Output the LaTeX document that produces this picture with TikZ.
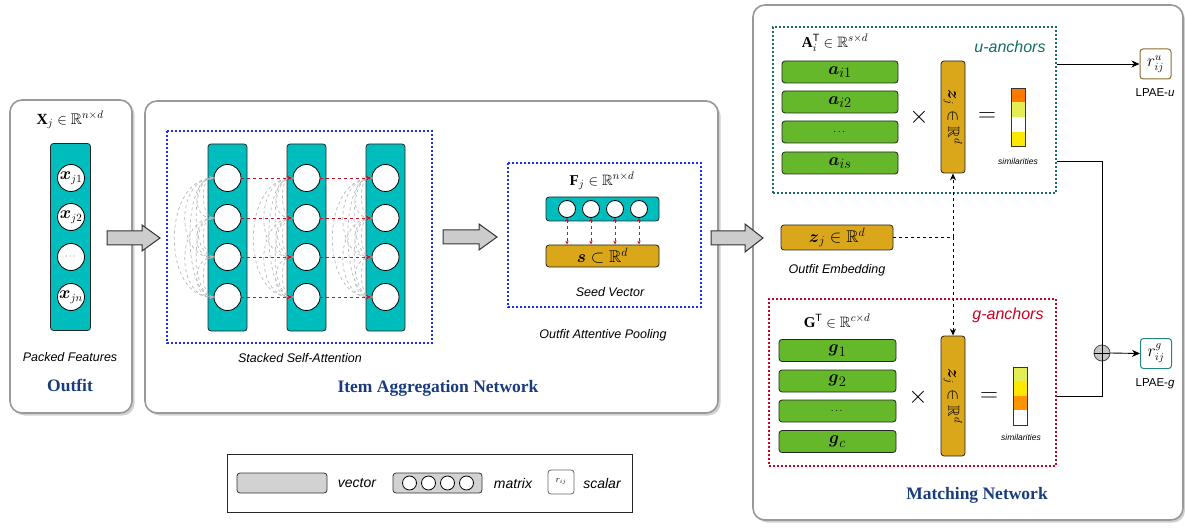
\documentclass[tikz,border=0pt]{standalone}
\usepackage{amsmath,amssymb}
\usepackage{fontspec}
\setmainfont{Liberation Serif}
\setsansfont{Liberation Sans}
\usetikzlibrary{arrows.meta,calc}
\definecolor{tealc}{RGB}{0,189,189}
\definecolor{goldc}{RGB}{218,166,26}
\definecolor{greenc}{RGB}{101,184,42}
\definecolor{titlec}{RGB}{25,60,125}
\definecolor{bluec}{RGB}{25,45,250}
\definecolor{redc}{RGB}{200,20,40}
\definecolor{udotc}{RGB}{20,110,100}
\definecolor{gdotc}{RGB}{200,0,35}
\definecolor{brownc}{RGB}{139,110,50}
\definecolor{rgc}{RGB}{40,130,130}
\begin{document}
\begin{tikzpicture}[x=1pt,y=-1pt,
  panelbox/.style={draw=black!40, line width=1.6pt, rounded corners=12pt, fill=white, inner sep=0pt},
  panelshadow/.style={fill=black!18, rounded corners=12pt},
  tealcol/.style={draw=black!85, fill=tealc, rounded corners=3pt, line width=0.8pt, inner sep=0pt},
  cir/.style={circle, draw=black, fill=white, line width=0.8pt, minimum size=27pt, inner sep=0pt},
  scir/.style={circle, draw=black, fill=white, line width=0.8pt, minimum size=17pt, inner sep=0pt},
  gvec/.style={draw=black!85, fill=goldc, rounded corners=3pt, line width=0.8pt, inner sep=0pt},
  greenrow/.style={draw=black!85, fill=greenc, rounded corners=3pt, line width=0.8pt, inner sep=0pt, font=\fontsize{19}{21}\selectfont},
  bdot/.style={draw=bluec, line width=1.3pt, dash pattern=on 2pt off 2pt},
  udot/.style={draw=udotc, line width=1.3pt, dash pattern=on 2pt off 2pt, inner sep=0pt},
  gdot/.style={draw=gdotc, line width=1.3pt, dash pattern=on 2pt off 2pt, inner sep=0pt},
  lab/.style={font=\sffamily\itshape\fontsize{12.5}{14}\selectfont},
  leglab/.style={font=\sffamily\itshape\fontsize{14}{16}\selectfont},
  simlab/.style={font=\sffamily\itshape\fontsize{8.5}{10}\selectfont},
  mlab/.style={font=\fontsize{15}{17}\selectfont},
  ttl/.style={font=\bfseries\fontsize{17.5}{20}\selectfont, text=titlec},
  bigop/.style={font=\fontsize{24}{26}\selectfont},
  attn/.style={draw=gray!55, dashed, line width=0.7pt, -{Stealth[length=4pt,width=3.5pt]}},
  redarr/.style={draw=redc, dashed, line width=0.9pt, -{Stealth[length=6pt,width=5pt]}},
  redbi/.style={draw=redc, dashed, line width=0.9pt, {Stealth[length=4pt,width=3.5pt]}-{Stealth[length=4pt,width=3.5pt]}},
  fatarrow/.style={draw=black!80, fill=gray!40, line width=1pt, line join=miter},
  conn/.style={draw=black, line width=0.9pt},
  rbox/.style={rounded corners=3pt, line width=1pt, fill=white, inner sep=0pt, minimum width=31pt, minimum height=30pt, font=\fontsize{16}{18}\selectfont}
]
\useasboundingbox (0,0) rectangle (1185,529);

% ---------------- panels ----------------
\fill[panelshadow] (12.5,102.5) rectangle (134.5,415.5);
\fill[panelshadow] (147.5,103.5) rectangle (720.5,415.5);
\fill[panelshadow] (755.5,7.5) rectangle (1185,522.5);
\node[panelbox, minimum width=122pt, minimum height=313pt] (outp) at (71,256.5) {};
\node[panelbox, minimum width=573pt, minimum height=312pt] (itemp) at (431.5,257) {};
\node[panelbox, minimum width=430pt, minimum height=515pt] (matchp) at (968,262.5) {};

% ---------------- outfit ----------------
\node[mlab, font=\fontsize{15.5}{17}\selectfont] (xlab) at (70,120) {$\mathbf{X}_j \in \mathbb{R}^{n\times d}$};
\node[tealcol, minimum width=40pt, minimum height=187pt] (oc) at (70.5,237) {};
\node[cir, font=\fontsize{16}{18}\selectfont] (o1) at (71,178) {$\boldsymbol{x}_{j1}$};
\node[cir, font=\fontsize{16}{18}\selectfont] (o2) at (71,217) {$\boldsymbol{x}_{j2}$};
\node[cir, font=\fontsize{8}{9}\selectfont] (o3) at (71,257) {$\cdots$};
\node[cir, font=\fontsize{16}{18}\selectfont] (o4) at (71,297) {$\boldsymbol{x}_{jn}$};
\node[lab] (pf) at (70,357) {Packed Features};
\node[ttl] (outt) at (70,385) {Outfit};

% ---------------- fat arrows ----------------
\draw[fatarrow] (107,231) -- (142,231) -- (142,225) -- (160,238) -- (142,251) -- (142,245) -- (107,245) -- cycle;
\draw[fatarrow] (443,230) -- (479,230) -- (479,224) -- (497,237) -- (479,250) -- (479,244) -- (443,244) -- cycle;
\draw[fatarrow] (711,231) -- (745,231) -- (745,224) -- (763,238) -- (745,252) -- (745,245) -- (711,245) -- cycle;

% ---------------- stacked self-attention ----------------
\draw[bdot] (167,131) rectangle (432,343);
\foreach \c/\x in {1/227.5,2/306.5,3/385.5}{
  \node[tealcol, minimum width=39pt, minimum height=187pt] (col\c) at (\x,237.5) {};
  \foreach \r/\y in {1/178,2/218,3/257,4/297}{
    \node[cir] (c\c-\r) at (\x,\y) {};
  }
}
\foreach \c in {1,2,3}{
  \foreach \i/\k/\b in {1/2/22,1/3/38,1/4/52,2/3/22,2/4/38,3/4/22}{
    \draw[attn] (c\c-\i.west) .. controls +(-\b,0) and +(-\b,0) .. (c\c-\k.west);
    \draw[attn] (c\c-\k.west) .. controls +(-0.6*\b,0) and +(-0.6*\b,0) .. (c\c-\i.west);
  }
}
\foreach \c/\n in {1/2,2/3}{
  \foreach \r in {1,2,3,4}{
    \draw[redarr] (c\c-\r.east) -- (c\n-\r.west);
  }
}
\node[lab] (ssa) at (300,358) {Stacked Self-Attention};
\node[ttl] (itemt) at (438,388) {Item Aggregation Network};

% ---------------- attentive pooling ----------------
\draw[bdot] (508,163) rectangle (701,307);
\node[mlab] (flab) at (602,181) {$\mathbf{F}_j \in \mathbb{R}^{n\times d}$};
\node[tealcol, minimum width=113pt, minimum height=24pt] (fb) at (602.5,209) {};
\foreach \i/\x in {1/567,2/591,3/615,4/639}{
  \node[scir] (p\i) at (\x,209) {};
}
\node[gvec, minimum width=113pt, minimum height=22pt, font=\fontsize{17}{19}\selectfont] (sb) at (602.5,256) {$\boldsymbol{s} \subset \mathbb{R}^d$};
\foreach \i in {1,2,3,4}{
  \draw[redbi] (p\i.south) -- (p\i.south |- sb.north);
}
\node[lab] (seed) at (610,292) {Seed Vector};
\node[lab] (oap) at (603,335) {Outfit Attentive Pooling};

% ---------------- matching network ----------------
\node[udot, minimum width=283pt, minimum height=166pt] (ubox) at (914.5,110) {};
\node[gdot, minimum width=287pt, minimum height=167pt] (gbox) at (912.5,382.5) {};

\node[mlab] (alab) at (835,43) {$\mathbf{A}_i^{\mathsf{T}} \in \mathbb{R}^{s\times d}$};
\node[font=\sffamily\itshape\fontsize{16}{18}\selectfont, text=udotc] (uan) at (1010,47) {u-anchors};
\node[greenrow, minimum width=116pt, minimum height=22pt] (a1) at (840,72) {$\boldsymbol{a}_{i1}$};
\node[greenrow, minimum width=116pt, minimum height=22pt] (a2) at (840,102) {$\boldsymbol{a}_{i2}$};
\node[greenrow, minimum width=116pt, minimum height=22pt, font=\fontsize{10}{11}\selectfont] (a3) at (840,132) {$\cdots$};
\node[greenrow, minimum width=116pt, minimum height=22pt] (a4) at (840,163) {$\boldsymbol{a}_{is}$};
\node[bigop] (ux) at (919,117) {$\times$};
\node[gvec, minimum width=24pt, minimum height=112pt] (uz) at (953,117) {};
\node[rotate=-90, font=\fontsize{16}{18}\selectfont] (uzt) at (uz) {$\boldsymbol{z}_j \in \mathbb{R}^d$};
\node[bigop] (ueq) at (987,117) {$=$};
\fill[orange!95!red] (1011,88) rectangle (1025,102);
\fill[yellow!85!green!70!white] (1011,102) rectangle (1025,117);
\fill[white] (1011,117) rectangle (1025,132);
\fill[yellow!90!orange] (1011,132) rectangle (1025,146);
\draw[black!80, line width=0.8pt] (1011,88) rectangle (1025,146);
\node[simlab] (usim) at (1018,161) {similarities};

\node[rbox, draw=brownc] (ru) at (1155.5,64) {$r^{u}_{ij}$};
\node[font=\sffamily\fontsize{11.5}{13}\selectfont] (lu) at (1155,93) {LPAE-\textit{u}};

\node[gvec, minimum width=112pt, minimum height=25pt, font=\fontsize{17}{19}\selectfont] (zj) at (837,237.5) {$\boldsymbol{z}_j \in \mathbb{R}^d$};
\node[lab] (oe) at (837,270) {Outfit Embedding};

\node[mlab] (glab) at (837,321) {$\mathbf{G}^{\mathsf{T}} \in \mathbb{R}^{c\times d}$};
\node[font=\sffamily\itshape\fontsize{16}{18}\selectfont, text=gdotc] (gan) at (1008,315) {g-anchors};
\node[greenrow, minimum width=117pt, minimum height=22pt] (g1) at (837.5,350.5) {$\boldsymbol{g}_{1}$};
\node[greenrow, minimum width=117pt, minimum height=22pt] (g2) at (837.5,381) {$\boldsymbol{g}_{2}$};
\node[greenrow, minimum width=117pt, minimum height=22pt, font=\fontsize{10}{11}\selectfont] (g3) at (837.5,411) {$\cdots$};
\node[greenrow, minimum width=117pt, minimum height=22pt] (g4) at (837.5,441.5) {$\boldsymbol{g}_{c}$};
\node[bigop] (gx) at (918,397) {$\times$};
\node[gvec, minimum width=24pt, minimum height=120pt] (gz) at (953,396) {};
\node[rotate=-90, font=\fontsize{16}{18}\selectfont] (gzt) at (gz) {$\boldsymbol{z}_j \in \mathbb{R}^d$};
\node[bigop] (geq) at (989,397) {$=$};
\fill[yellow!85!green!70!white] (1013,367) rectangle (1027,381);
\fill[yellow!90!orange] (1013,381) rectangle (1027,396);
\fill[orange!85!yellow] (1013,396) rectangle (1027,410);
\fill[white] (1013,410) rectangle (1027,425);
\draw[black!80, line width=0.8pt] (1013,367) rectangle (1027,425);
\node[simlab] (gsim) at (1021,437) {similarities};

\node[circle, draw=black!70, fill=gray!45, minimum size=16pt, inner sep=0pt, line width=0.8pt] (op) at (1102,353) {};
\node[rbox, draw=rgc] (rg) at (1156,353.5) {$r^{g}_{ij}$};
\node[font=\sffamily\fontsize{11.5}{13}\selectfont] (lg) at (1155,384) {LPAE-\textit{g}};

% connectors
\draw[conn, -{Stealth[length=8pt,width=7pt]}] (ubox.east |- ru.west) -- (ru.west);
\draw[conn] (ubox.east |- usim.east) -| (op.north);
\draw[conn] (gbox.east |- 0,396) -| (op.south);
\draw[conn] (op.north) -- (op.south);
\draw[conn] (op.west) -- (op.east);
\draw[conn, -{Stealth[length=8pt,width=7pt]}] (op.east) -- (rg.west);

\coordinate (jn) at (zj.east -| uz.south);
\draw[conn, dashed] (zj.east) -- (jn);
\draw[conn, dashed, -{Stealth[length=7pt,width=6pt]}] (jn) -- (uz.south);
\draw[conn, dashed, -{Stealth[length=7pt,width=6pt]}] (jn) -- (gz.north);

\node[ttl] (matt) at (977,495) {Matching Network};

% ---------------- legend ----------------
\node[draw=black!85, line width=0.8pt, minimum width=405pt, minimum height=58pt, inner sep=0pt] (leg) at (429.5,483) {};
\node[draw=black!80, fill=gray!35, rounded corners=3pt, line width=0.8pt, minimum width=90pt, minimum height=20pt, inner sep=0pt] (lv) at (282,483) {};
\node[leglab] (lvt) at (357,483) {vector};
\node[draw=black!80, fill=gray!35, rounded corners=3pt, line width=0.8pt, minimum width=89pt, minimum height=20pt, inner sep=0pt] (lm) at (437.5,483) {};
\foreach \i/\x in {1/409.5,2/428.5,3/447.5,4/466.5}{
  \node[circle, draw=black, fill=white, line width=0.8pt, minimum size=14pt, inner sep=0pt] (lmc\i) at (\x,483) {};
}
\node[leglab] (lmt) at (513,483) {matrix};
\node[draw=black!60, rounded corners=3pt, line width=0.8pt, minimum width=26pt, minimum height=24pt, inner sep=0pt, font=\fontsize{9}{10}\selectfont] (ls) at (561,482) {$r_{ij}$};
\node[leglab] (lst) at (602,483) {scalar};
\end{tikzpicture}
\end{document}
